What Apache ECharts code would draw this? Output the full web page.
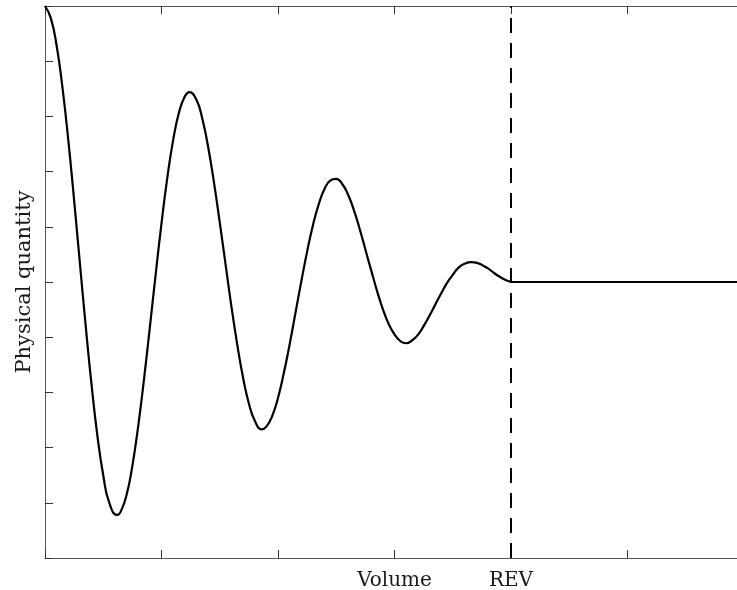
<!DOCTYPE html>
<html>
<head>
<meta charset="utf-8">
<script src="https://cdn.jsdelivr.net/npm/echarts@6/dist/echarts.min.js"></script>
<style>
  html, body { margin: 0; padding: 0; background: #fff; }
  #chart { width: 737px; height: 590px; }
</style>
</head>
<body>
<div id="chart"></div>
<script>
// curve: volume (x) vs physical quantity (y)
const volume = [
  0, 0.05, 0.1, 0.15, 0.2, 0.25, 0.3, 0.35, 0.4, 0.45, 0.5, 0.55, 0.62, 0.65, 0.7, 0.75, 0.8, 0.85, 0.9, 0.95,
  1.0, 1.05, 1.1, 1.15, 1.2, 1.24, 1.3, 1.35, 1.4, 1.45, 1.5, 1.55, 1.6, 1.65, 1.7, 1.75, 1.8, 1.86, 1.9, 1.95,
  2.0, 2.05, 2.1, 2.15, 2.2, 2.25, 2.3, 2.35, 2.4, 2.45, 2.5, 2.55, 2.6, 2.65, 2.7, 2.75, 2.8, 2.85, 2.9, 2.95,
  3.0, 3.05, 3.1, 3.15, 3.2, 3.25, 3.3, 3.35, 3.4, 3.45, 3.5, 3.55, 3.6, 3.66, 3.7, 3.75, 3.8, 3.85, 3.9, 3.95,
  4.0,
];
const quantity = [
  10.0, 9.78, 9.28, 8.52, 7.57, 6.48, 5.33, 4.19, 3.13, 2.21, 1.5, 1.01, 0.78, 0.84, 1.14, 1.67, 2.39, 3.24, 4.18, 5.14,
  6.06, 6.89, 7.57, 8.07, 8.36, 8.44, 8.3, 7.96, 7.45, 6.81, 6.08, 5.32, 4.56, 3.87, 3.27, 2.8, 2.49, 2.33, 2.38, 2.57,
  2.9, 3.35, 3.87, 4.44, 5.01, 5.55, 6.03, 6.41, 6.69, 6.84, 6.87, 6.78, 6.59, 6.31, 5.97, 5.59, 5.21, 4.84, 4.51, 4.24,
  4.05, 3.93, 3.89, 3.94, 4.04, 4.2, 4.39, 4.59, 4.79, 4.98, 5.13, 5.26, 5.33, 5.36, 5.35, 5.31, 5.25, 5.17, 5.1, 5.04,
  5.0,
];

// flat part after the REV
const restVolume = [4.0, 5.94];
const restQuantity = [5.0, 5.0];

const revVolume = 4;
const volumeTickLabels = { 3: "Volume", 4: "REV" };
const X_MAX = 5.94;

const serif = "DejaVu Serif";
const axisColor = "#555";

const chart = echarts.init(document.getElementById("chart"));

const commonX = {
  type: "value",
  min: 0,
  max: X_MAX,
  interval: 1,
  splitLine: { show: false },
  axisLine: { show: true, lineStyle: { color: axisColor, width: 1 } },
  axisTick: { show: true, inside: true, length: 8, lineStyle: { color: "#333" } },
};

chart.setOption({
  animation: false,
  grid: { left: 45, top: 6, right: 0, bottom: 32, containLabel: false, outerBoundsMode: "none" },
  xAxis: [
    {
      ...commonX,
      position: "bottom",
      axisLabel: {
        margin: 13,
        fontFamily: serif,
        fontSize: 20,
        color: "#1a1a1a",
        formatter: (v) => volumeTickLabels[v] || "",
      },
    },
    {
      ...commonX,
      position: "top",
      axisLabel: { show: false },
    },
  ],
  yAxis: {
    type: "value",
    min: 0,
    max: 10,
    interval: 1,
    name: "Physical quantity",
    nameLocation: "middle",
    nameGap: 10,
    nameTextStyle: { fontFamily: serif, fontSize: 21, color: "#1a1a1a" },
    splitLine: { show: false },
    axisLine: { show: true, lineStyle: { color: axisColor, width: 1 } },
    axisTick: { show: true, inside: true, length: 8, lineStyle: { color: "#333" } },
    axisLabel: { show: false },
  },
  series: [
    {
      type: "line",
      smooth: true,
      showSymbol: false,
      data: volume.map((v, i) => [v, quantity[i]]),
      lineStyle: { color: "#000", width: 2.2 },
      z: 3,
    },
    {
      type: "line",
      showSymbol: false,
      data: restVolume.map((v, i) => [v, restQuantity[i]]),
      lineStyle: { color: "#000", width: 2.2 },
      z: 3,
      markLine: {
        silent: true,
        symbol: ["none", "none"],
        label: { show: false },
        lineStyle: { color: "#000", width: 2, type: [15, 10] },
        data: [{ xAxis: revVolume }],
      },
    },
  ],
});
</script>
</body>
</html>
